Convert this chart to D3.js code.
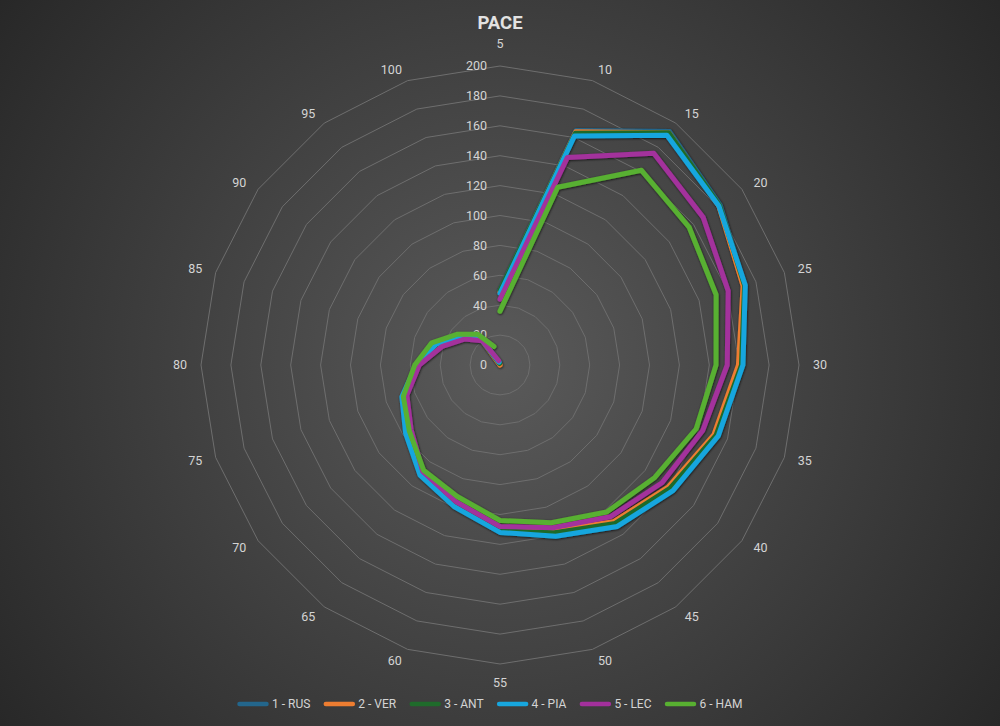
<!DOCTYPE html>
<html>
<head>
<meta charset="utf-8">
<script src="https://cdn.jsdelivr.net/npm/d3@7"></script>
<style>
  html, body { margin: 0; padding: 0; background: #333; }
  svg { display: block; font-family: Roboto, "Liberation Sans", Arial, sans-serif; }
</style>
</head>
<body>
<svg id="chart" width="1000" height="726"></svg>
<script>
// ---------- DATA ----------
const categories = ["5","10","15","20","25","30","35","40","45","50","55","60","65","70","75","80","85","90","95","100"];
const radialTicks = [0,20,40,60,80,100,120,140,160,180,200];
const seriesNames = ["1 - RUS","2 - VER","3 - ANT","4 - PIA","5 - LEC","6 - HAM"];
const seriesColors = ["#23668c","#ed7d31","#1f6b2b","#17a6de","#a3309c","#58b031"];
const rus = [50, 165, 193, 182, 172, 162, 153, 142, 133, 120, 111.5, 99, 90.5, 77.5, 68.5, 55.5, 44.5, 31.5, 22, 1];
const ver = [49, 164, 192, 181, 171, 159.5, 150.5, 139, 129.5, 116.5, 109.5, 97, 89, 76.5, 68, 55, 44, 31, 21.5, 0];
const ant = [50, 163, 192, 181.5, 172, 161.5, 152, 140.5, 131, 118, 111, 98, 90, 77, 68.5, 55.5, 44.5, 31.5, 22, 1];
const pia = [48, 161, 190, 181, 172.5, 162.5, 153.5, 143, 133.5, 120.5, 112, 99.5, 91, 78, 69, 56, 45, 32, 22.5, 2];
const lec = [44, 146, 175, 168, 160.5, 152, 142.5, 134, 125.5, 114.5, 108, 96, 88, 73.5, 65.5, 54, 40.5, 29.5, 20, 3];
const ham = [36, 125, 161, 156.5, 152, 144.5, 138, 128, 121.5, 111, 104, 92.5, 87, 75, 68, 57, 48, 35, 25.5, 13];
const seriesValues = [rus, ver, ant, pia, lec, ham];
const title = "PACE";

// ---------- LAYOUT ----------
const W = 1000, H = 726;
const cx = 500, cy = 365, R = 299;
const svg = d3.select("#chart");

const defs = svg.append("defs");
const grad = defs.append("radialGradient").attr("id","bg")
  .attr("gradientUnits","userSpaceOnUse").attr("cx",cx).attr("cy",cy).attr("r",640);
grad.append("stop").attr("offset","0%").attr("stop-color","#5a5a5a");
grad.append("stop").attr("offset","100%").attr("stop-color","#262626");

const shadow = defs.append("filter").attr("id","shadow")
  .attr("x","-10%").attr("y","-10%").attr("width","120%").attr("height","120%");
shadow.append("feDropShadow").attr("dx",0.5).attr("dy",0.8).attr("stdDeviation",1.3)
  .attr("flood-color","#000").attr("flood-opacity",0.75);

svg.append("rect").attr("width",W).attr("height",H).attr("fill","url(#bg)");

const r = d3.scaleLinear().domain([0,200]).range([0,R]);
const step = 2*Math.PI / categories.length;
const ang = c => categories.indexOf(c) * step;

const g = svg.append("g").attr("transform",`translate(${cx},${cy})`);

// grid rings
radialTicks.filter(t => t > 0).forEach(t => {
  g.append("path")
    .attr("d", d3.lineRadial().angle(d => ang(d)).radius(() => r(t)).curve(d3.curveLinearClosed)(categories))
    .attr("fill","none").attr("stroke","#6e6e6e").attr("stroke-width",1);
});

// radial tick labels
g.selectAll(".rtick").data(radialTicks).join("text")
  .attr("x",-13).attr("y",d => -r(d))
  .attr("dy","0.35em").attr("text-anchor","end")
  .attr("fill","#d4d4d4").attr("font-size",12.5)
  .text(d => d);

// category labels (Excel-like placement: anchored just outside the outer ring)
const labR = R + 12;
g.selectAll(".cat").data(categories).join("text")
  .each(function(d) {
    const a = ang(d), s = Math.sin(a), c = Math.cos(a);
    const el = d3.select(this);
    let x = labR * s, y = -labR * c, anchor = "middle", dy = "0.35em";
    if (Math.abs(s) < 1e-6) {
      y = c > 0 ? -(R + 22) : (R + 19);
    } else {
      anchor = s > 0 ? "start" : "end";
      x += s > 0 ? 2 : -2;
    }
    el.attr("x", x).attr("y", y).attr("dy", dy).attr("text-anchor", anchor);
  })
  .attr("fill","#d4d4d4").attr("font-size",12.5)
  .text(d => d);

// series lines
const line = d3.lineRadial()
  .angle((d,i) => ang(categories[i]))
  .radius(d => r(d));
const sg = g.append("g").attr("filter","url(#shadow)");
seriesValues.forEach((vals, k) => {
  sg.append("path")
    .attr("d", line(vals))
    .attr("fill","none")
    .attr("stroke", seriesColors[k])
    .attr("stroke-width",5)
    .attr("stroke-linejoin","round")
    .attr("stroke-linecap","round");
});

// title
svg.append("text").attr("x",cx).attr("y",23).attr("dy","0.35em")
  .attr("text-anchor","middle").attr("fill","#e2e2e2")
  .attr("font-size",18.5).attr("font-weight","bold")
  .text(title);

// legend
const leg = svg.append("g").attr("transform","translate(238,704)");
let xoff = 0;
seriesNames.forEach((name, k) => {
  const it = leg.append("g").attr("transform",`translate(${xoff},0)`);
  it.append("line").attr("x1",1.5).attr("x2",28.5).attr("y1",0).attr("y2",0)
    .attr("stroke",seriesColors[k]).attr("stroke-width",4.5).attr("stroke-linecap","round");
  const t = it.append("text").attr("x",34).attr("y",0).attr("dy","0.35em")
    .attr("fill","#d4d4d4").attr("font-size",12).text(name);
  const w = t.node().getComputedTextLength();
  xoff += 34 + w + 14;
});
</script>
</body>
</html>
